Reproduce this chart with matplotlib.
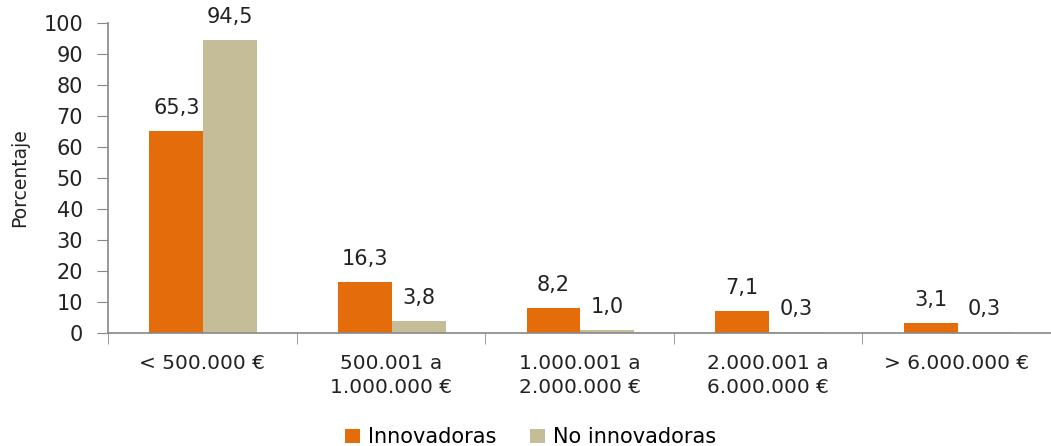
import numpy as np
import matplotlib.pyplot as plt

categories = ["< 500.000 €", "500.001 a\n1.000.000 €", "1.000.001 a\n2.000.000 €",
              "2.000.001 a\n6.000.000 €", "> 6.000.000 €"]
innovadoras = [65.3, 16.3, 8.2, 7.1, 3.1]
no_innovadoras = [94.5, 3.8, 1.0, 0.3, 0.3]
series_names = ["Innovadoras", "No innovadoras"]
colors = ["#E46C0A", "#C4BD97"]

plt.rcParams['font.family'] = ['DejaVu Sans']

fig = plt.figure(figsize=(10.51, 4.46), dpi=100)
ax = fig.add_axes([0.1028, 0.2534, 0.8972, 0.695])

x = np.arange(len(categories))
w = 0.286
b1 = ax.bar(x - w / 2 + 0.005, innovadoras, w, color=colors[0], label=series_names[0])
b2 = ax.bar(x + w / 2 + 0.005, no_innovadoras, w, color=colors[1], label=series_names[1])

# etiquetas de valor sobre cada barra
for bars, vals in [(b1, innovadoras), (b2, no_innovadoras)]:
    for r, v in zip(bars, vals):
        ax.text(r.get_x() + r.get_width() / 2, v + 4.2, f"{v:.1f}".replace(".", ","),
                ha="center", va="bottom", fontsize=15, color="#222222")

ax.set_xlim(-0.5, len(categories) - 0.5)
ax.set_ylim(0, 100)
ax.set_yticks(range(0, 101, 10))
ax.tick_params(axis="y", labelsize=15, colors="#222222", length=8, color="#888888", pad=10)
ax.set_xticks(x)
ax.set_xticklabels(categories, fontsize=14.5, color="#222222", linespacing=1.35)
ax.set_xticks(np.arange(len(categories)) - 0.5, minor=True)
ax.tick_params(axis="x", which="major", length=0, pad=15)
ax.tick_params(axis="x", which="minor", length=8, color="#888888")

for s in ["top", "right"]:
    ax.spines[s].set_visible(False)
for s in ["left", "bottom"]:
    ax.spines[s].set_color("#888888")
    ax.spines[s].set_linewidth(1.2)

ax.set_ylabel("Porcentaje", fontsize=13.5, color="#222222", labelpad=10)

fig.legend(loc="lower center", bbox_to_anchor=(0.505, -0.045), ncol=2, frameon=False,
           fontsize=15, handlelength=0.7, handleheight=0.7, handletextpad=0.4,
           columnspacing=1.6)

fig.savefig("out.png", dpi=100)
